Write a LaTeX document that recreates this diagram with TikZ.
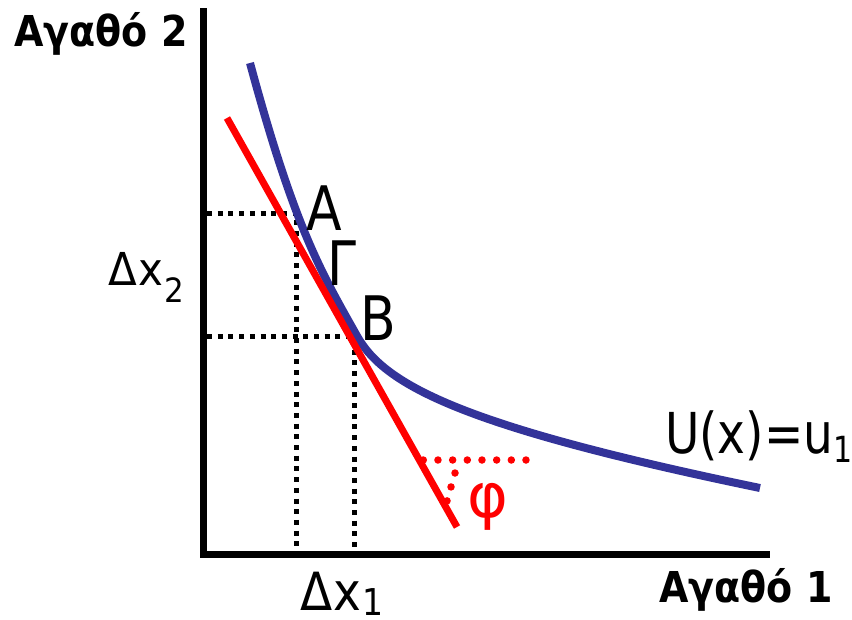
\documentclass[tikz,border=0pt]{standalone}
\usepackage{fontspec}
\setmainfont{DejaVu Sans}
\definecolor{ublue}{HTML}{333399}
\newcommand{\vsc}[2][1.15]{\scalebox{1}[#1]{#2}}
\newcommand{\fsz}[1]{\fontsize{#1}{#1}\selectfont}
\begin{document}
\begin{tikzpicture}[x=1pt,y=-1pt,
  axis/.style={line width=6.5pt, line join=miter},
  guide/.style={line width=5pt, dash pattern=on 5pt off 5.7pt},
  util/.style={line width=8pt, draw=ublue},
  tangent/.style={line width=7pt, draw=red},
  reddots/.style={line width=7.5pt, draw=red, line cap=round, dash pattern=on 0pt off 14.67pt},
  lbl/.style={inner sep=0pt, anchor=base west},
]
\useasboundingbox (0,0) rectangle (852,619);
% axes
\coordinate (ytop) at (203.5,8);
\coordinate (orig) at (203.5,554.5);
\coordinate (xend) at (770,554.5);
\draw[axis] (ytop) -- (orig) -- (xend);
% guide points
\coordinate (ya) at (207,213);
\coordinate (pa) at (296,213);
\coordinate (xa) at (296,551);
\coordinate (yb) at (207,336);
\coordinate (pb) at (354,336);
\coordinate (xb) at (354,551);
\draw[guide] (ya) -- (pa) -- (xa);
\draw[guide] (yb) -- (pb) -- (xb);
% indifference curve
\coordinate (u0) at (250,63);
\coordinate (u1) at (357,336);
\coordinate (u2) at (760,488);
\draw[util] (u0) .. controls (295,229.5) and (322,273.7) .. (u1)
                 .. controls (385,386) and (465,427) .. (u2);
% tangent line
\coordinate (t1) at (227,118);
\coordinate (t2) at (457,527);
\draw[tangent] (t1) -- (t2);
% angle marks
\coordinate (h1) at (423.3,460);
\coordinate (h2) at (530,460);
\draw[reddots] (h1) -- (h2);
\coordinate (c1) at (455,473);
\coordinate (c2) at (451,487);
\coordinate (c3) at (447,501);
\draw[reddots, dash pattern=on 0pt off 14.5pt] (c1) -- (c2) -- (c3);
% labels
\node[lbl] (ylab) at (14,46) {\vsc[1.12]{\fsz{38}\bfseries Αγαθό 2}};
\node[lbl] (xlab) at (659,602) {\vsc[1.12]{\fsz{38}\bfseries Αγαθό 1}};
\node[lbl] (dx2) at (108,285) {\vsc[1.08]{\fsz{42}Δ\kern1.5pt x\kern1pt\raisebox{-16pt}{\fsz{31}2}}};
\node[lbl] (dx1) at (300,610) {\vsc[1.12]{\fsz{47}Δ\kern1.5pt x\kern1pt\raisebox{-5pt}{\fsz{33}1}}};
\node[lbl] (la) at (306,230) {\vsc[1.18]{\fsz{52}A}};
\node[lbl] (lg) at (327,285) {\vsc[1.18]{\fsz{52}Γ}};
\node[lbl] (lb) at (360,340) {\vsc[1.18]{\fsz{52}B}};
\node[lbl] (lu) at (665,453) {\vsc[1.2]{\fsz{47}U(x)=u\raisebox{-8pt}{\fsz{30}1}}};
\node[inner sep=0pt, text=red] (phi) at (488,507) {\fsz{62}φ};
\end{tikzpicture}
\end{document}
